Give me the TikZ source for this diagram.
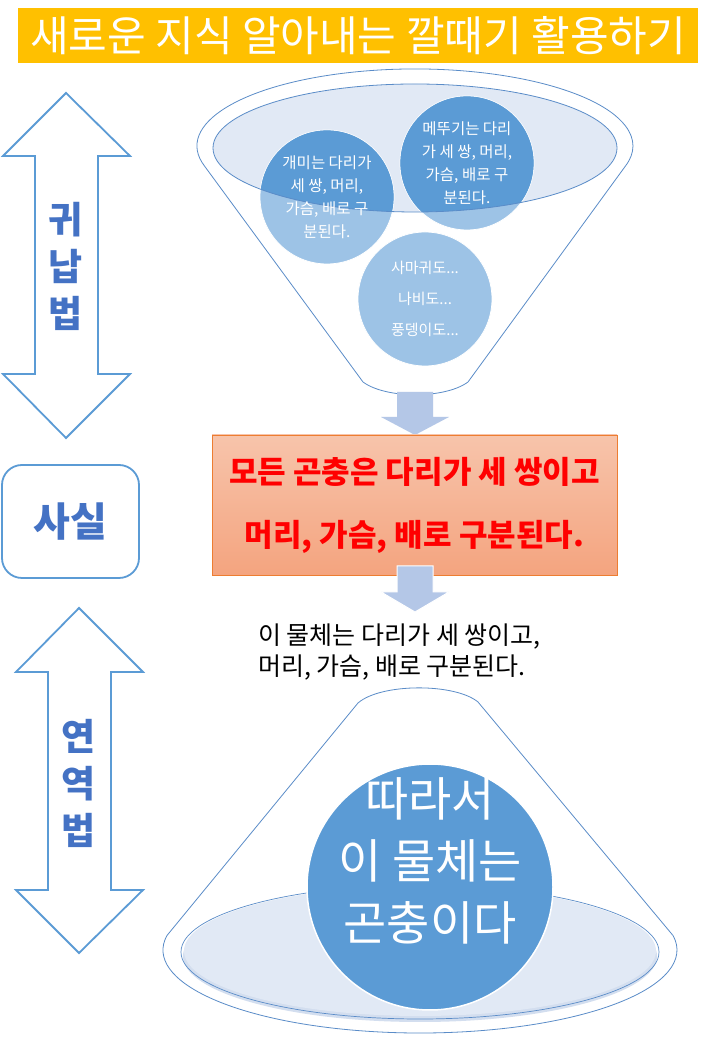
\documentclass[tikz,border=0pt]{standalone}
\usepackage{fontspec}
\setmainfont{Noto Sans CJK KR}
\definecolor{gold}{HTML}{FFC000}
\definecolor{acc}{HTML}{5B9BD5}
\definecolor{accl}{HTML}{9DC3E6}
\definecolor{pale}{HTML}{E1E9F5}
\definecolor{paled}{HTML}{D3DEEF}
\definecolor{arr}{HTML}{B4C7E7}
\definecolor{fl}{HTML}{5A8CC8}
\definecolor{wa}{HTML}{4472C4}
\definecolor{boxtop}{HTML}{F7C4AB}
\definecolor{boxbot}{HTML}{F4A47F}
\definecolor{boxedge}{HTML}{ED7D31}
\tikzset{
  funl/.style={draw=fl, line width=0.8pt, fill=white},
  dbl/.style={draw=acc, line width=1.8pt, fill=white, line join=miter},
  blockarr/.style={fill=arr},
  smallc/.style={circle, minimum size=134pt, inner sep=0pt, fill=accl, draw=white, line width=0.8pt},
  ctext/.style={text=white, align=center, inner sep=0pt, font=\fontsize{15.5}{23}\selectfont},
  walabel/.style={text=wa, align=center, inner sep=0pt, font=\bfseries\fontsize{37}{47}\selectfont},
}
\begin{document}
\begin{tikzpicture}[x=1pt,y=1pt]
\useasboundingbox (0,0) rectangle (716,1039);
\fill[white] (0,0) rectangle (716,1039);

% title
\node[fill=gold, minimum width=680pt, minimum height=55pt, inner sep=0pt, text=white,
      font=\fontsize{42}{42}\selectfont] (title) at (358,1003.5) {새로운 지식 알아내는 깔때기 활용하기};

% top funnel
\draw[funl] (204.4,873.1) arc[start angle=195, end angle=-15, x radius=218, y radius=77]
  -- (468,657) .. controls (445,640) and (386,640) .. (363,657) -- cycle;
\fill[pale] (415,891) ellipse[x radius=202, y radius=64];

\node[smallc] (c1) at (327,842) {};
\node[smallc] (c2) at (467,876) {};
\node[smallc] (c3) at (425,740) {};
\begin{scope}
  \clip (415,891) ellipse[x radius=202, y radius=64];
  \fill[acc] (c1.center) circle[radius=66.6];
  \fill[acc] (c2.center) circle[radius=66.6];
\end{scope}
\draw[fl, line width=0.8pt] (415,891) ellipse[x radius=202, y radius=64];

\node[ctext] (t1) at (c1.center) {개미는 다리가\\세 쌍, 머리,\\가슴, 배로 구\\분된다.};
\node[ctext] (t2) at (c2.center) {메뚜기는 다리\\가 세 쌍, 머리,\\가슴, 배로 구\\분된다.};
\node[ctext, font=\fontsize{15}{31}\selectfont] (t3) at (c3.center) {사마귀도...\\나비도...\\풍뎅이도...};

% arrow 1
\fill[blockarr] (397,647) -- (433,647) -- (433,622) -- (449,622) -- (415,604) -- (381,622) -- (397,622) -- cycle;

% fact box
\node[draw=boxedge, line width=0.6pt, top color=boxtop, bottom color=boxbot,
      minimum width=405pt, minimum height=140pt, inner sep=0pt,
      text=red, align=center, font=\bfseries\fontsize{31}{63}\selectfont] (fact) at (414.5,534)
      {모든 곤충은 다리가 세 쌍이고\\머리, 가슴, 배로 구분된다.};

% arrow 2
\filldraw[blockarr, draw=white, line width=1pt] (397,473) -- (433,473) -- (433,447) -- (449,447) -- (415,427) -- (381,447) -- (397,447) -- cycle;

% premise text
\node[anchor=west, align=left, inner sep=0pt, font=\fontsize{25}{31}\selectfont] (prem) at (258,386.5)
  {이 물체는 다리가 세 쌍이고,\\머리, 가슴, 배로 구분된다.};

% bottom cone
\draw[funl] (358,336) -- (166.9,103.4) arc[start angle=170, end angle=370, x radius=257, y radius=83]
  -- (478,337) .. controls (455,356) and (381,356) .. (358,336) -- cycle;
\fill[paled] (420,83) ellipse[x radius=237, y radius=66];
\fill[pale] (420,88) ellipse[x radius=236, y radius=65];
\draw[fl, line width=0.7pt] (420,87) ellipse[x radius=239, y radius=67];

\node[circle, minimum size=246pt, inner sep=0pt, fill=acc, draw=white, line width=1.5pt] (big) at (430,152) {};
\node[text=white, align=center, inner sep=0pt, font=\fontsize{47}{62}\selectfont] (bigt) at (430,178)
  {따라서\\이 물체는\\곤충이다};

% left: induction arrow
\draw[dbl] (66,946) -- (130,883) -- (98,883) -- (98,665) -- (130,665) -- (66,601)
  -- (3,665) -- (35,665) -- (35,883) -- (3,883) -- cycle;
\node[walabel] (ind) at (66,772.5) {귀\\납\\법};

% fact label
\node[draw=acc, line width=1.8pt, rounded corners=20pt, minimum width=137pt, minimum height=113pt,
      inner sep=0pt, text=wa, font=\bfseries\fontsize{40}{40}\selectfont] (sasil) at (70.5,517.5) {사실};

% left: deduction arrow
\draw[dbl] (79,431) -- (143,367) -- (111,367) -- (111,149) -- (143,149) -- (79,86)
  -- (16,149) -- (48,149) -- (48,367) -- (16,367) -- cycle;
\node[walabel] (ded) at (79,255.5) {연\\역\\법};
\end{tikzpicture}
\end{document}
